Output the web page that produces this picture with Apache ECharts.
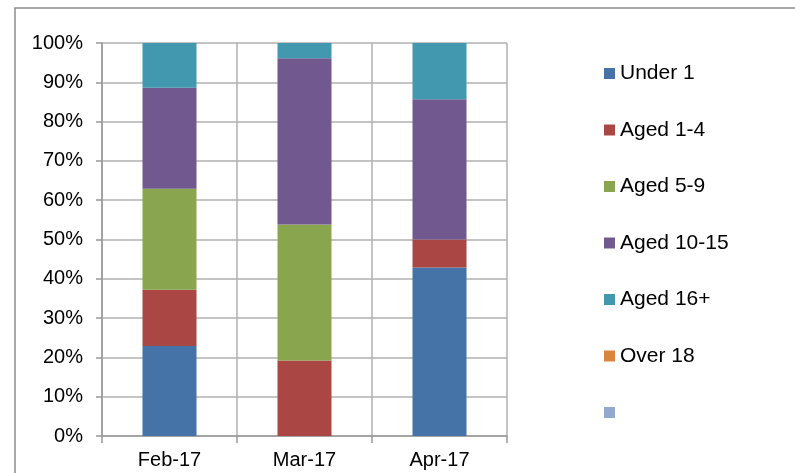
<!DOCTYPE html>
<html>
<head>
<meta charset="utf-8">
<script src="https://cdn.jsdelivr.net/npm/echarts@6/dist/echarts.min.js"></script>
<style>
  html, body { margin: 0; padding: 0; background: #fff; }
  #chart { width: 795px; height: 473px; }
</style>
</head>
<body>
<div id="chart"></div>
<script>
const months = ["Feb-17", "Mar-17", "Apr-17"];
const seriesNames = ["Under 1", "Aged 1-4", "Aged 5-9", "Aged 10-15", "Aged 16+", "Over 18", " "];
const colors = ["#4572A7", "#AA4643", "#89A54E", "#71588F", "#4198AF", "#DB843D", "#93A9CF"];

// share of each month, in percent
const under1 = [22.9, 0, 42.9];
const aged1to4 = [14.3, 19.2, 7.1];
const aged5to9 = [25.7, 34.6, 0];
const aged10to15 = [25.7, 42.3, 35.7];
const aged16plus = [11.4, 3.9, 14.3];
const over18 = [0, 0, 0];
const blank = [0, 0, 0];

const values = [under1, aged1to4, aged5to9, aged10to15, aged16plus, over18, blank];

const chart = echarts.init(document.getElementById("chart"));

const option = {
  animation: false,
  textStyle: { fontFamily: "Liberation Sans, Arial, sans-serif" },
  graphic: [
    {
      // outer frame of the chart area
      type: "rect",
      shape: { x: 15, y: 8, width: 800, height: 480 },
      style: { fill: "none", stroke: "#8c8c8c", lineWidth: 1.5 },
    },
  ],
  grid: { left: 102, right: 288, top: 43, bottom: 37 },
  legend: {
    orient: "vertical",
    left: 599,
    top: 58,
    icon: "rect",
    itemWidth: 11,
    itemHeight: 11,
    itemGap: 35.5,
    textStyle: { fontSize: 21, lineHeight: 20, color: "#000" },
    data: seriesNames,
  },
  xAxis: {
    type: "category",
    data: months,
    axisLine: { lineStyle: { color: "#999", width: 1.5 } },
    axisTick: { show: true, length: 7, lineStyle: { color: "#999", width: 1.5 } },
    splitLine: { show: true, lineStyle: { color: "#b0b0b0", width: 1.5 } },
    axisLabel: { fontSize: 20, color: "#000", margin: 14 },
  },
  yAxis: {
    type: "value",
    min: 0,
    max: 100,
    interval: 10,
    axisLine: { show: true, lineStyle: { color: "#999", width: 1.5 } },
    axisTick: { show: true, length: 6, lineStyle: { color: "#999", width: 1.5 } },
    splitLine: { show: true, lineStyle: { color: "#b0b0b0", width: 1.5 } },
    axisLabel: { fontSize: 20, color: "#000", margin: 19, formatter: "{value}%" },
  },
  series: seriesNames.map((name, i) => {
    return {
      name: name,
      type: "bar",
      stack: "total",
      barWidth: "40%",
      itemStyle: { color: colors[i] },
      data: values[i],
    };
  }),
};
option && chart.setOption(option);
</script>
</body>
</html>
